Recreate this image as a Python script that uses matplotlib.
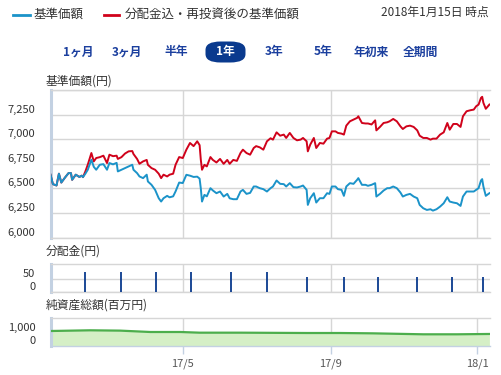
import matplotlib
matplotlib.use("Agg")
import matplotlib.pyplot as plt
import matplotlib.dates as mdates
import matplotlib.transforms as mtransforms
from matplotlib.patches import FancyBboxPatch
import pandas as pd

plt.rcParams['font.family'] = ['Noto Sans CJK JP', 'DejaVu Sans']

# ---- price series: 基準価額 and 分配金込・再投資後の基準価額 ----
dates = [
    "2017-01-11", "2017-01-13", "2017-01-16", "2017-01-18", "2017-01-20", "2017-01-23",
    "2017-01-26", "2017-01-28", "2017-01-29", "2017-02-01", "2017-02-04", "2017-02-06",
    "2017-02-07", "2017-02-09", "2017-02-11", "2017-02-14", "2017-02-16", "2017-02-18",
    "2017-02-21", "2017-02-24", "2017-02-27", "2017-03-01", "2017-03-04", "2017-03-07",
    "2017-03-08", "2017-03-11", "2017-03-14", "2017-03-17", "2017-03-20", "2017-03-21",
    "2017-03-24", "2017-03-26", "2017-03-29", "2017-04-01", "2017-04-02", "2017-04-05",
    "2017-04-08", "2017-04-11", "2017-04-13", "2017-04-15", "2017-04-18", "2017-04-20",
    "2017-04-23", "2017-04-25", "2017-04-28", "2017-05-01", "2017-05-04", "2017-05-07",
    "2017-05-10", "2017-05-13", "2017-05-15", "2017-05-16", "2017-05-17", "2017-05-19",
    "2017-05-21", "2017-05-24", "2017-05-26", "2017-05-29", "2017-06-01", "2017-06-04",
    "2017-06-07", "2017-06-09", "2017-06-12", "2017-06-15", "2017-06-18", "2017-06-20",
    "2017-06-23", "2017-06-26", "2017-06-29", "2017-07-01", "2017-07-04", "2017-07-07",
    "2017-07-10", "2017-07-13", "2017-07-15", "2017-07-18", "2017-07-21", "2017-07-24",
    "2017-07-26", "2017-07-29", "2017-08-01", "2017-08-04", "2017-08-07", "2017-08-09",
    "2017-08-12", "2017-08-13", "2017-08-15", "2017-08-18", "2017-08-20", "2017-08-23",
    "2017-08-26", "2017-08-29", "2017-08-31", "2017-09-02", "2017-09-05", "2017-09-07",
    "2017-09-10", "2017-09-12", "2017-09-14", "2017-09-17", "2017-09-20", "2017-09-23",
    "2017-09-24", "2017-09-27", "2017-09-30", "2017-10-02", "2017-10-05", "2017-10-08",
    "2017-10-09", "2017-10-12", "2017-10-15", "2017-10-18", "2017-10-20", "2017-10-23",
    "2017-10-26", "2017-10-29", "2017-10-31", "2017-11-03", "2017-11-06", "2017-11-09",
    "2017-11-12", "2017-11-14", "2017-11-17", "2017-11-20", "2017-11-23", "2017-11-25",
    "2017-11-28", "2017-12-01", "2017-12-04", "2017-12-07", "2017-12-09", "2017-12-12",
    "2017-12-15", "2017-12-18", "2017-12-20", "2017-12-23", "2017-12-26", "2017-12-29",
    "2017-12-31", "2018-01-02", "2018-01-04", "2018-01-05", "2018-01-06", "2018-01-08",
    "2018-01-11",
]

nav_price = [
    6640, 6544, 6530, 6650, 6560, 6610,
    6656, 6656, 6588, 6640, 6617, 6630,
    6615, 6650, 6690, 6792, 6720, 6690,
    6741, 6747, 6690, 6758, 6745, 6760,
    6673, 6690, 6707, 6724, 6741, 6690,
    6656, 6622, 6605, 6640, 6571, 6537,
    6486, 6401, 6367, 6401, 6425, 6410,
    6420, 6470, 6560, 6555, 6639, 6630,
    6617, 6620, 6600, 6500, 6367, 6435,
    6420, 6503, 6480, 6452, 6469, 6418,
    6445, 6400, 6391, 6391, 6469, 6486,
    6445, 6455, 6520, 6520, 6503, 6493,
    6469, 6503, 6520, 6581, 6547, 6544,
    6520, 6554, 6513, 6510, 6520, 6530,
    6486, 6333, 6401, 6452, 6357, 6401,
    6401, 6452, 6445, 6520, 6520, 6493,
    6486, 6425, 6520, 6554, 6547, 6588,
    6605, 6537, 6537, 6527, 6537, 6554,
    6418, 6445, 6479, 6503, 6503, 6520,
    6503, 6459, 6418, 6435, 6445, 6418,
    6401, 6333, 6299, 6282, 6289, 6275,
    6289, 6316, 6350, 6411, 6367, 6357,
    6350, 6323, 6418, 6469, 6469, 6469,
    6486, 6503, 6581, 6595, 6520, 6425,
    6452,
]

reinvested_price = [
    6640, 6544, 6530, 6650, 6560, 6610,
    6656, 6656, 6588, 6640, 6617, 6630,
    6615, 6673, 6741, 6860, 6775, 6809,
    6818, 6833, 6758, 6843, 6828, 6833,
    6800, 6818, 6855, 6877, 6880, 6850,
    6800, 6751, 6775, 6790, 6740, 6707,
    6690, 6650, 6605, 6640, 6622, 6640,
    6650, 6741, 6819, 6809, 6894, 6962,
    6930, 6979, 6940, 6792, 6690, 6740,
    6724, 6819, 6790, 6764, 6800, 6750,
    6790, 6750, 6790, 6780, 6860, 6894,
    6860, 6843, 6911, 6930, 6918, 6894,
    6979, 7010, 6996, 7070, 7036, 7047,
    7013, 7064, 7013, 6989, 6996, 7013,
    6979, 6877, 6945, 7013, 6911, 6962,
    6955, 7006, 7013, 7080, 7080, 7064,
    7057, 7047, 7138, 7182, 7199, 7217,
    7233, 7165, 7160, 7160, 7150, 7192,
    7090, 7125, 7165, 7172, 7182, 7206,
    7182, 7131, 7104, 7131, 7138, 7125,
    7090, 7036, 7013, 7013, 6996, 7006,
    7006, 7047, 7070, 7165, 7097, 7155,
    7155, 7125, 7233, 7284, 7294, 7301,
    7335, 7352, 7420, 7431, 7370, 7309,
    7352,
]

# ---- 分配金(円) ----
dist_dates = [
    "2017-02-09", "2017-03-11", "2017-04-09", "2017-05-08", "2017-06-10", "2017-07-10",
    "2017-08-12", "2017-09-12", "2017-10-10", "2017-11-12", "2017-12-11", "2018-01-06",
]
dist_values = [80, 80, 80, 80, 80, 80, 60, 60, 60, 60, 60, 60]

# ---- 純資産総額(百万円) ----
aum_dates = [
    "2017-01-11", "2017-02-13", "2017-03-10", "2017-04-04", "2017-04-29", "2017-05-15",
    "2017-06-18", "2017-08-12", "2017-09-09", "2017-10-06", "2017-11-17", "2017-12-15",
    "2018-01-11",
]
aum_values = [1185, 1242, 1215, 1105, 1105, 1050, 1050, 1024, 1024, 997, 919, 919, 946]

price_ticks = [6000, 6250, 6500, 6750, 7000, 7250, 7500]
price_tick_labels = ["6,000", "6,250", "6,500", "6,750", "7,000", "7,250", ""]
dist_ticks = [0, 50]
dist_tick_labels = ["0", "50"]
aum_ticks = [0, 1000]
aum_tick_labels = ["0", "1,000"]
x_ticks = ["2017-05-01", "2017-09-01", "2018-01-01"]
x_tick_labels = ["17/5", "17/9", "18/1"]

period_buttons = ["1ヶ月", "3ヶ月", "半年", "1年", "3年", "5年", "年初来", "全期間"]
active_button = "1年"

BLUE = "#1b93c9"
RED = "#d0021b"
NAVY = "#0a3a8e"
GRID = "#d6d6d6"
AXIS_BLUE = "#c3d1e2"
TEXT = "#333333"

W, H = 501, 375
fig = plt.figure(figsize=(W / 100, H / 100), dpi=100)


def fx(px):
    return px / W


def fy(py):
    return 1 - py / H


def panel(top, bottom):
    return fig.add_axes([fx(50.5), fy(bottom), fx(490) - fx(50.5), fy(top) - fy(bottom)])


d_price = pd.to_datetime(dates)
d_dist = pd.to_datetime(dist_dates)
d_aum = pd.to_datetime(aum_dates)
x_tick_dates = pd.to_datetime(x_ticks)
x_min, x_max = pd.Timestamp("2017-01-11"), pd.Timestamp("2018-01-11 12:00")

ax1 = panel(90, 237.7)
ax2 = panel(264.3, 292.3)
ax3 = panel(318.3, 345.7)

label_shift = mtransforms.ScaledTranslation(0, 6 / 100, fig.dpi_scale_trans)


def style_axis(ax, yticks, ylabels, bottom_color):
    ax.set_xlim(x_min, x_max)
    ax.set_yticks(yticks)
    ax.set_yticklabels(ylabels)
    ax.set_xticks(x_tick_dates)
    ax.grid(True, color=GRID, lw=1.0, zorder=0)
    ax.set_axisbelow(True)
    ax.spines["right"].set_visible(False)
    ax.spines["top"].set_color(GRID)
    ax.spines["top"].set_linewidth(1.0)
    ax.spines["left"].set_color(AXIS_BLUE)
    ax.spines["left"].set_linewidth(2.2)
    ax.spines["bottom"].set_color(bottom_color)
    ax.spines["bottom"].set_linewidth(1.0)
    ax.tick_params(axis="y", length=0, pad=11, labelsize=8, labelcolor=TEXT)
    for lab in ax.get_yticklabels():
        lab.set_transform(lab.get_transform() + label_shift)


# price chart (基準価額 drawn over the reinvested line where they coincide)
ax1.plot(d_price, reinvested_price, color=RED, lw=1.4, zorder=3)
ax1.plot(d_price, nav_price, color=BLUE, lw=1.4, zorder=4)
ax1.set_ylim(6000, 7500)
style_axis(ax1, price_ticks, price_tick_labels, GRID)
ax1.tick_params(axis="x", length=0, labelbottom=False)

# distribution chart
ax2.vlines(d_dist, 0, dist_values, color=NAVY, lw=1.3, zorder=3)
ax2.set_ylim(0, 107.7)
style_axis(ax2, dist_ticks, dist_tick_labels, GRID)
ax2.tick_params(axis="x", length=0, labelbottom=False)

# net assets chart
ax3.fill_between(d_aum, 0, aum_values, color="#d5efc6", lw=0, zorder=2)
ax3.plot(d_aum, aum_values, color="#4cae4c", lw=1.6, zorder=3)
ax3.set_ylim(0, 2210)
style_axis(ax3, aum_ticks, aum_tick_labels, AXIS_BLUE)
ax3.grid(False, axis="y")
ax3.set_xticklabels(x_tick_labels)
ax3.tick_params(axis="x", length=6, width=1, color=AXIS_BLUE, pad=3,
                labelsize=8, labelcolor="#555555")

# panel titles
fig.text(fx(46), fy(81), "基準価額(円)", fontsize=8.5, color=TEXT, va="center", ha="left")
fig.text(fx(46), fy(251.5), "分配金(円)", fontsize=8.5, color=TEXT, va="center", ha="left")
fig.text(fx(46), fy(305.5), "純資産総額(百万円)", fontsize=8.5, color=TEXT, va="center", ha="left")

# legend
fig.add_artist(plt.Line2D([fx(13), fx(30)], [fy(14.5), fy(14.5)], color=BLUE, lw=2))
fig.text(fx(34), fy(14.5), "基準価額", fontsize=9, color=TEXT, va="center", ha="left")
fig.add_artist(plt.Line2D([fx(104), fx(119)], [fy(14.5), fy(14.5)], color=RED, lw=2))
fig.text(fx(125), fy(14.5), "分配金込・再投資後の基準価額", fontsize=9, color=TEXT,
         va="center", ha="left")
fig.text(fx(489), fy(12), "2018年1月15日 時点", fontsize=8.5, color=TEXT,
         va="center", ha="right")

# period selector
button_centers = [78, 127, 176, 225.5, 274, 323, 371, 420.5]
for label, cx in zip(period_buttons, button_centers):
    if label == active_button:
        box = FancyBboxPatch((fx(cx - 20), fy(62.5)), fx(40), fy(41.5) - fy(62.5),
                             boxstyle="round,pad=0,rounding_size=0.03",
                             transform=fig.transFigure, facecolor=NAVY,
                             edgecolor="none", mutation_aspect=H / W * 1.0)
        fig.add_artist(box)
        color = "white"
    else:
        color = "#1b3f9e"
    fig.text(fx(cx), fy(52), label, fontsize=8.5, fontweight="bold", color=color,
             va="center", ha="center")

fig.savefig("out.png", dpi=100)
